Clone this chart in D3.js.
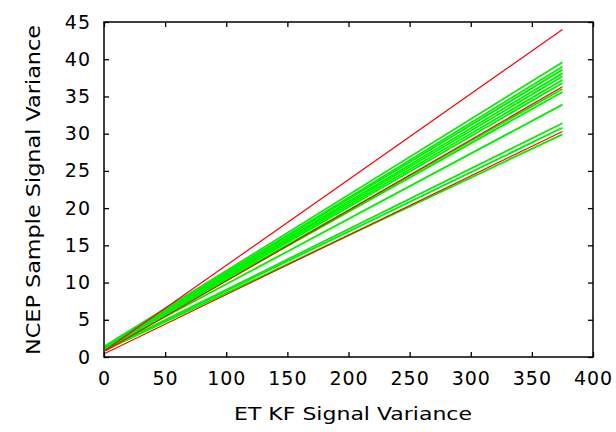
<!DOCTYPE html>
<html><head><meta charset="utf-8">
<script src="https://cdn.jsdelivr.net/npm/d3@7"></script>
<style>body{margin:0;background:#fff}</style>
</head><body>
<svg id="c" width="616" height="432"></svg>
<script>
// Data
const xTicks = [0,50,100,150,200,250,300,350,400];
const yTicks = [0,5,10,15,20,25,30,35,40,45];
const xRange = [1, 375];
// green ensemble lines: start and end values
const greenStart = [1.5,1.4,1.4,1.3,1.3,1.3,1.2,1.2,1.2,1.1,1.0,1.0,0.9];
const greenEnd   = [39.6,39.0,38.6,38.1,37.7,37.2,36.8,36.0,35.6,33.9,31.4,30.8,29.9];
// red reference lines
const redStart = [0.9,0.8,0.5];
const redEnd   = [44.0,36.3,30.3];

const svg = d3.select("#c");
const m = {l:104, r:593, t:22, b:357};
const x = d3.scaleLinear().domain([0,400]).range([m.l,m.r]);
const y = d3.scaleLinear().domain([0,45]).range([m.b,m.t]);
const font = "'DejaVu Sans', Verdana, sans-serif";

const line = d3.line().x(d=>x(d[0])).y(d=>y(d[1]));
const g = svg.append("g");
greenStart.forEach((s,i)=>{
  g.append("path").attr("d", line([[xRange[0],s],[xRange[1],greenEnd[i]]]))
   .attr("stroke","#00f000").attr("stroke-width",1.8).attr("fill","none");
});
redStart.forEach((s,i)=>{
  g.append("path").attr("d", line([[xRange[0],s],[xRange[1],redEnd[i]]]))
   .attr("stroke","#ff0000").attr("stroke-width",1.2).attr("fill","none");
});

// axes: ticks inward, mirrored
const tl = 5;
const styleText = a=>a.selectAll("text").attr("font-size",19).attr("font-family",font).attr("fill","#000").attr("letter-spacing","1px");
svg.append("g").attr("transform",`translate(0,${m.b})`)
  .call(d3.axisBottom(x).tickValues(xTicks).tickSizeInner(-tl).tickSizeOuter(0).tickPadding(15))
  .call(a=>{a.select(".domain").remove();styleText(a);});
svg.append("g").attr("transform",`translate(0,${m.t})`)
  .call(d3.axisTop(x).tickValues(xTicks).tickSizeInner(-tl).tickSizeOuter(0).tickFormat(""))
  .call(a=>a.select(".domain").remove());
svg.append("g").attr("transform",`translate(${m.l},0)`)
  .call(d3.axisLeft(y).tickValues(yTicks).tickSizeInner(-tl).tickSizeOuter(0).tickPadding(13))
  .call(a=>{a.select(".domain").remove();styleText(a);});
svg.append("g").attr("transform",`translate(${m.r},0)`)
  .call(d3.axisRight(y).tickValues(yTicks).tickSizeInner(-tl).tickSizeOuter(0).tickFormat(""))
  .call(a=>a.select(".domain").remove());
svg.selectAll(".tick line").attr("stroke","#000").attr("stroke-width",1.3);

svg.append("rect").attr("x",m.l).attr("y",m.t).attr("width",m.r-m.l).attr("height",m.b-m.t)
  .attr("fill","none").attr("stroke","#000").attr("stroke-width",1.5);

svg.append("text").attr("x",353).attr("y",420).attr("text-anchor","middle")
  .attr("font-size",17).attr("font-family",font)
  .attr("textLength",238).attr("lengthAdjust","spacingAndGlyphs").text("ET KF Signal Variance");
svg.append("text").attr("transform","translate(40,190) rotate(-90)").attr("text-anchor","middle")
  .attr("font-size",19).attr("font-family",font)
  .attr("textLength",330).attr("lengthAdjust","spacingAndGlyphs").text("NCEP Sample Signal Variance");
</script>
</body></html>
